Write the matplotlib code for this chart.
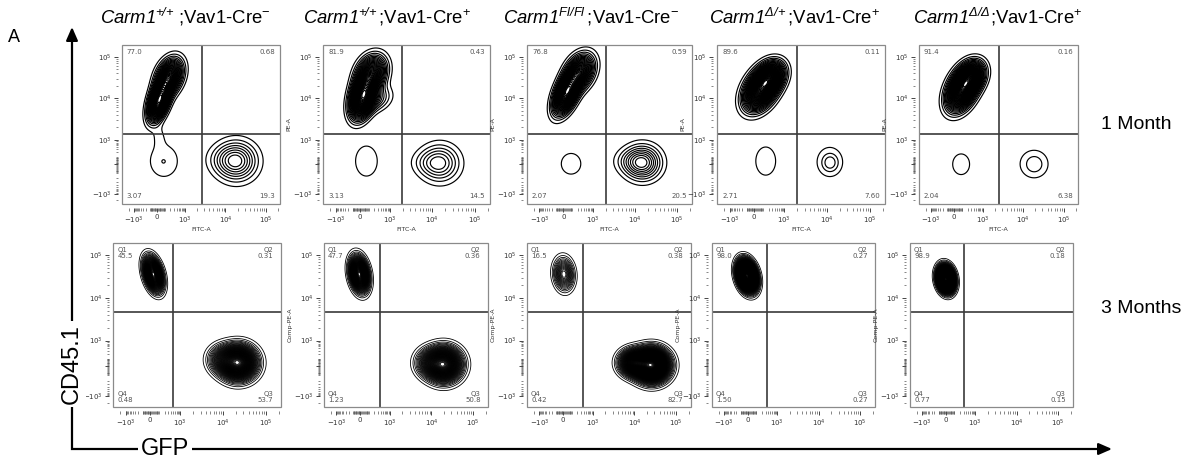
import numpy as np
import matplotlib
matplotlib.use('Agg')
import matplotlib.pyplot as plt
from matplotlib.patches import Rectangle
from matplotlib.lines import Line2D

W, H = 1191, 461

plt.rcParams['font.family'] = 'Liberation Sans'
# math "rm" is the italic face so gene names stay italic, sf stays upright
plt.rcParams['mathtext.fontset'] = 'custom'
plt.rcParams['mathtext.rm'] = 'Liberation Sans:italic'
plt.rcParams['mathtext.it'] = 'Liberation Sans:italic'
plt.rcParams['mathtext.sf'] = 'Liberation Sans'
plt.rcParams['mathtext.bf'] = 'Liberation Sans:bold'

genotypes = [
    r'$\mathrm{Carm1}^{+\!/\!+}\,$;Vav1-Cre$^{\mathsf{-}}$',
    r'$\mathrm{Carm1}^{+\!/\!+}$;Vav1-Cre$^{\mathsf{+}}$',
    r'$\mathrm{Carm1}^{Fl/Fl}\,$;Vav1-Cre$^{\mathsf{-}}$',
    r'$\mathrm{Carm1}^{Δ/\!+}$;Vav1-Cre$^{\mathsf{+}}$',
    r'$\mathrm{Carm1}^{Δ/Δ}$;Vav1-Cre$^{\mathsf{+}}$',
]
timepoints = ['1 Month', '3 Months']

# quadrant frequencies per sample: [Q1 upper-left, Q2 upper-right, Q3 lower-right, Q4 lower-left]
freq_1m = [[77.0, 0.68, 19.3, 3.07],
           [81.9, 0.43, 14.5, 3.13],
           [76.8, 0.59, 20.5, 2.07],
           [89.6, 0.11, 7.60, 2.71],
           [91.4, 0.16, 6.38, 2.04]]
freq_3m = [[45.5, 0.31, 53.7, 0.48],
           [47.7, 0.36, 50.8, 1.23],
           [16.5, 0.38, 82.7, 0.42],
           [98.0, 0.27, 0.27, 1.50],
           [98.9, 0.18, 0.15, 0.77]]

# quadrant gates in channel units (0-1 of the display range)
gate_x_1m = [0.505, 0.473, 0.48, 0.476, 0.50]
gate_y_1m = 0.44
gate_x_3m = [0.357, 0.34, 0.34, 0.337, 0.33]
gate_y_3m = 0.58

# populations: (quadrant index, gaussian components (cx, cy, s_long, s_short, angle, weight))
pops_1m = [
    [(0, [(0.235, 0.65, 0.075, 0.034, 72, 0.55), (0.30, 0.80, 0.07, 0.045, 68, 0.45)]),
     (3, [(0.263, 0.268, 0.009, 0.009, 0, 1.0)]),
     (2, [(0.725, 0.27, 0.082, 0.078, 0, 0.9), (0.63, 0.28, 0.07, 0.06, 0, 0.1)])],
    [(0, [(0.24, 0.68, 0.08, 0.04, 75, 0.6), (0.29, 0.82, 0.07, 0.05, 70, 0.33),
          (0.32, 0.66, 0.06, 0.045, 30, 0.07)]),
     (3, [(0.26, 0.27, 0.08, 0.055, 90, 1.0)]),
     (2, [(0.70, 0.257, 0.075, 0.075, 0, 0.9), (0.61, 0.26, 0.06, 0.05, 0, 0.1)])],
    [(0, [(0.24, 0.70, 0.08, 0.037, 68, 0.6), (0.32, 0.83, 0.07, 0.047, 65, 0.4)]),
     (3, [(0.267, 0.253, 0.05, 0.055, 0, 1.0)]),
     (2, [(0.70, 0.26, 0.07, 0.068, 0, 0.9), (0.61, 0.27, 0.06, 0.05, 0, 0.1)])],
    [(0, [(0.26, 0.72, 0.08, 0.05, 62, 0.7), (0.32, 0.80, 0.06, 0.045, 60, 0.3)]),
     (3, [(0.29, 0.27, 0.075, 0.05, 90, 1.0)]),
     (2, [(0.673, 0.26, 0.035, 0.03, 90, 0.5), (0.67, 0.27, 0.075, 0.06, 90, 0.5)])],
    [(0, [(0.27, 0.72, 0.08, 0.048, 65, 0.7), (0.33, 0.80, 0.06, 0.045, 60, 0.3)]),
     (3, [(0.265, 0.25, 0.055, 0.045, 90, 1.0)]),
     (2, [(0.725, 0.25, 0.04, 0.04, 0, 0.5), (0.72, 0.255, 0.085, 0.08, 0, 0.5)])],
]
# faint trailing cells joined to the Q1 outline (height relative to the outermost level)
tails_1m = {0: [(0.235, 0.43, 0.05, 0.03, 90, 1.0), (0.265, 0.27, 0.085, 0.075, 90, 1.9)]}

pops_3m = [
    [(0, [(0.24, 0.81, 0.058, 0.028, 105, 1.0)]),
     (2, [(0.745, 0.27, 0.06, 0.058, 0, 0.85), (0.65, 0.29, 0.05, 0.05, 0, 0.15)])],
    [(0, [(0.215, 0.81, 0.058, 0.03, 100, 1.0)]),
     (2, [(0.73, 0.26, 0.06, 0.058, 0, 0.85), (0.64, 0.27, 0.05, 0.05, 0, 0.15)])],
    [(0, [(0.225, 0.81, 0.055, 0.034, 95, 1.0)]),
     (2, [(0.76, 0.255, 0.058, 0.055, 0, 0.75), (0.65, 0.27, 0.05, 0.045, 0, 0.25)])],
    [(0, [(0.215, 0.80, 0.05, 0.03, 105, 1.0)])],
    [(0, [(0.22, 0.78, 0.042, 0.027, 100, 1.0)])],
]

# panel boxes in pixels: (left, right)
boxes_1m = [(122, 280), (323, 490), (527, 692), (717, 885), (919, 1078)]
boxes_3m = [(113, 281), (324, 488), (527, 691), (712, 875), (910, 1073)]
rows_y = [(45, 204), (243, 407)]


def chan(v, lo, zero, hi, dec):
    # biexponential-like display position of a fluorescence value
    v = np.asarray(v, float)
    k = np.arcsinh(10.0)
    pos = np.where(v >= 1000, hi + dec * np.log10(np.maximum(v, 1) / 1000),
                   np.where(v >= 0, zero + (hi - zero) * np.arcsinh(v / 100) / k,
                            zero + (zero - lo) * np.arcsinh(v / 100) / k))
    return pos


minor_vals = np.concatenate([-np.arange(2000, 1000, -1000.0), -np.arange(900, 0, -100.0),
                             -np.arange(90, 0, -10.0), np.arange(10, 100, 10.0),
                             np.arange(100, 1000, 100.0), np.arange(2e3, 1e4, 1e3),
                             np.arange(2e4, 1e5, 1e4), [2e5]])
xscale = (0.075, 0.22, 0.40, 0.255)
yscale = (0.065, 0.25, 0.405, 0.26)

gx = np.linspace(-0.1, 1.1, 480)
GX, GY = np.meshgrid(gx, gx)


def bump(cx, cy, sl, ss, ang):
    t = np.deg2rad(ang)
    dx, dy = GX - cx, GY - cy
    u = dx * np.cos(t) + dy * np.sin(t)
    v = -dx * np.sin(t) + dy * np.cos(t)
    return np.exp(-0.5 * ((u / sl) ** 2 + (v / ss) ** 2))


def density(comps):
    z = np.zeros_like(GX)
    for cx, cy, sl, ss, ang, w in comps:
        z += w / (sl * ss) * bump(cx, cy, sl, ss, ang)
    return z


def prob_levels(z, n):
    # equal-probability contour levels
    probs = np.arange(1, n + 1) / (n + 1)
    flat = np.sort(z.ravel())[::-1]
    cum = np.cumsum(flat)
    cum /= cum[-1]
    idx = np.searchsorted(cum, probs)
    return np.unique(flat[idx])


def fmt(v):
    return '%.1f' % v if v >= 10 else '%.2f' % v


fig = plt.figure(figsize=(W / 100, H / 100), dpi=100)

for r in range(2):
    y0, y1 = rows_y[r]
    boxes = boxes_1m if r == 0 else boxes_3m
    freqs = freq_1m if r == 0 else freq_3m
    pops = pops_1m if r == 0 else pops_3m
    gxs = gate_x_1m if r == 0 else gate_x_3m
    gy = gate_y_1m if r == 0 else gate_y_3m
    step = 2.2 if r == 0 else 1.0
    for i in range(5):
        x0, x1 = boxes[i]
        ax = fig.add_axes([x0 / W, 1 - y1 / H, (x1 - x0) / W, (y1 - y0) / H])
        ax.set_xlim(0, 1)
        ax.set_ylim(0, 1)

        for q, comps in pops[i]:
            z = density(comps)
            n = max(1, int(freqs[i][q] / step))
            levels = prob_levels(z, n)
            if r == 0 and q == 0 and i in tails_1m:
                for cx, cy, sl, ss, ang, rel in tails_1m[i]:
                    z = z + rel * levels[0] * bump(cx, cy, sl, ss, ang)
            ax.contour(GX, GY, z, levels=levels, colors='black',
                       linewidths=0.85 if r == 0 else 0.6)

        ax.axvline(gxs[i], color='#3a3a3a', lw=1.2)
        ax.axhline(gy, color='#3a3a3a', lw=1.2)

        f = freqs[i]
        tk = dict(fontsize=5, color='#555555', family='DejaVu Sans')
        if r == 0:
            ax.text(0.03, 0.975, fmt(f[0]), ha='left', va='top', transform=ax.transAxes, **tk)
            ax.text(0.97, 0.975, fmt(f[1]), ha='right', va='top', transform=ax.transAxes, **tk)
            ax.text(0.97, 0.03, fmt(f[2]), ha='right', va='bottom', transform=ax.transAxes, **tk)
            ax.text(0.03, 0.03, fmt(f[3]), ha='left', va='bottom', transform=ax.transAxes, **tk)
        else:
            ax.text(0.025, 0.975, 'Q1\n' + fmt(f[0]), ha='left', va='top', linespacing=1.0,
                    transform=ax.transAxes, **tk)
            ax.text(0.955, 0.975, 'Q2\n' + fmt(f[1]), ha='right', va='top', linespacing=1.0,
                    multialignment='right', transform=ax.transAxes, **tk)
            ax.text(0.955, 0.025, 'Q3\n' + fmt(f[2]), ha='right', va='bottom', linespacing=1.0,
                    multialignment='right', transform=ax.transAxes, **tk)
            ax.text(0.025, 0.025, 'Q4\n' + fmt(f[3]), ha='left', va='bottom', linespacing=1.0,
                    transform=ax.transAxes, **tk)

        # axes: offset tick rows outside a grey frame
        for s in ax.spines.values():
            s.set_visible(False)
        ax.spines['bottom'].set_position(('outward', 3))
        ax.spines['left'].set_position(('outward', 3))
        ax.add_patch(Rectangle((0, 0), 1, 1, transform=ax.transAxes, fill=False,
                               ec='#8a8a8a', lw=0.9, clip_on=False, zorder=5))

        ax.set_xticks(chan([-1e3, 0, 1e3, 1e4, 1e5], *xscale))
        ax.set_xticklabels([r'$-10^3$', '0', r'$10^3$', r'$10^4$', r'$10^5$'])
        ax.set_yticks(chan([-1e3, 0, 1e3, 1e4, 1e5], *yscale))
        ax.set_yticklabels([r'$-10^3$', '', r'$10^3$', r'$10^4$', r'$10^5$'])
        mx = chan(minor_vals, *xscale)
        my = chan(minor_vals, *yscale)
        ax.set_xticks(mx[(mx > 0) & (mx < 1)], minor=True)
        ax.set_yticks(my[(my > 0) & (my < 1)], minor=True)
        for lab in ax.get_xticklabels() + ax.get_yticklabels():
            lab.set_fontfamily('DejaVu Sans')
            lab.set_math_fontfamily('dejavusans')
        ax.tick_params(which='major', length=3, width=0.7, color='#444444',
                       labelsize=5, labelcolor='#333333', pad=1.5)
        ax.tick_params(which='minor', length=1.8, width=0.5, color='#555555')

        lab_kw = dict(fontsize=4.5, color='#333333', family='DejaVu Sans')
        if r == 0:
            ax.set_xlabel('FITC-A', labelpad=1, **lab_kw)
            if i > 0:
                ax.set_ylabel('PE-A', labelpad=1, **lab_kw)
        elif i > 0:
            ax.set_ylabel('Comp-PE-A', labelpad=1, **lab_kw)

# overlay in pixel coordinates for titles, arrows and axis names
ov = fig.add_axes([0, 0, 1, 1])
ov.set_xlim(0, W)
ov.set_ylim(H, 0)
ov.axis('off')
ov.patch.set_alpha(0)

title_x = [100, 303, 503, 709, 913]
for x, t in zip(title_x, genotypes):
    ov.text(x, 24, t, ha='left', va='baseline', fontsize=13.3, math_fontfamily='custom')
ov.text(1101, 124, timepoints[0], ha='left', va='center', fontsize=14)
ov.text(1101, 308, timepoints[1], ha='left', va='center', fontsize=14)
ov.text(8, 42, 'A', ha='left', va='baseline', fontsize=13)

ov.add_line(Line2D([72, 72, 1100], [36, 449, 449], color='black', lw=1.6,
                   solid_joinstyle='miter', solid_capstyle='butt'))
ov.annotate('', xy=(72, 27), xytext=(72, 40),
            arrowprops=dict(arrowstyle='-|>,head_length=0.8,head_width=0.35', color='black',
                            lw=1.6, shrinkA=0, shrinkB=0))
ov.annotate('', xy=(1112, 449), xytext=(1098, 449),
            arrowprops=dict(arrowstyle='-|>,head_length=0.8,head_width=0.35', color='black',
                            lw=1.6, shrinkA=0, shrinkB=0))
ov.text(72, 364, 'CD45.1', rotation=90, ha='center', va='center', fontsize=17,
        bbox=dict(fc='white', ec='none', pad=2))
ov.text(165, 449, 'GFP', ha='center', va='center', fontsize=17,
        bbox=dict(fc='white', ec='none', pad=2))

fig.savefig('out.png', dpi=100)
